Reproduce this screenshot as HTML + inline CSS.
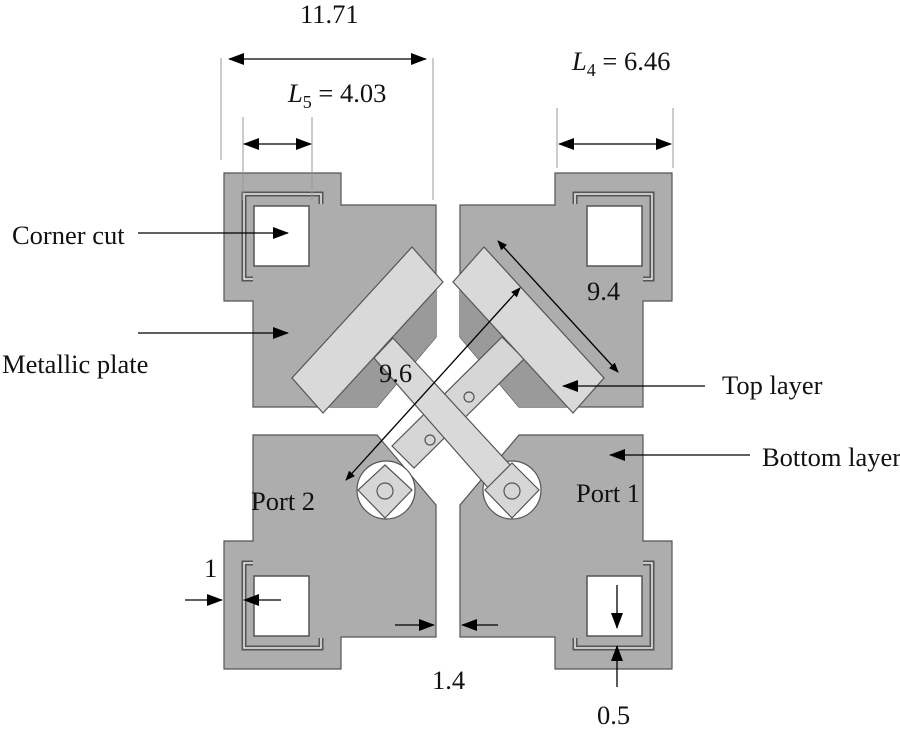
<!DOCTYPE html>
<html><head><meta charset="utf-8"><style>
html,body{margin:0;padding:0;background:#fff;}
svg{display:block;}
text{font-family:"Liberation Serif",serif;font-size:26.5px;fill:#111;}
</style></head><body>
<svg width="900" height="733" viewBox="0 0 900 733" xmlns="http://www.w3.org/2000/svg">
<defs>
<marker id="ah" markerWidth="10" markerHeight="8" refX="9" refY="4" orient="auto" markerUnits="userSpaceOnUse"><path d="M0,0 L10,4 L0,8 z" fill="#000"/></marker>
<marker id="as" markerWidth="10" markerHeight="8" refX="1" refY="4" orient="auto" markerUnits="userSpaceOnUse"><path d="M10,0 L0,4 L10,8 z" fill="#000"/></marker>
<marker id="ah2" markerWidth="16" markerHeight="12" refX="15" refY="6" orient="auto" markerUnits="userSpaceOnUse"><path d="M0,0 L16,6 L0,12 z" fill="#000"/></marker>
<marker id="as2" markerWidth="16" markerHeight="12" refX="1" refY="6" orient="auto" markerUnits="userSpaceOnUse"><path d="M16,0 L0,6 L16,12 z" fill="#000"/></marker>
<g id="plate">
<path d="M224,173 L341,173 L341,205 L436,205 L436,337 L377,407 L253,407 L253,301 L224,301 Z" fill="#adadad" stroke="#555" stroke-width="1.2"/>
<rect x="254" y="206" width="55" height="60" fill="#fff" stroke="#555" stroke-width="1.5"/>
<path d="M321,204 L321,194 L244,194 L244,279 L253,279" fill="none" stroke="#555" stroke-width="5"/>
<path d="M321,204 L321,194 L244,194 L244,279 L253,279" fill="none" stroke="#eee" stroke-width="1.5"/>
</g>
<polygon id="dark" points="436,290 436,337 377,407 328,407" fill="#9a9a9a"/>
</defs>
<use href="#plate"/>
<use href="#plate" transform="translate(896,0) scale(-1,1)"/>
<use href="#plate" transform="translate(0,842) scale(1,-1)"/>
<use href="#plate" transform="translate(896,842) scale(-1,-1)"/>
<use href="#dark"/>
<use href="#dark" transform="translate(896,0) scale(-1,1)"/>

<!-- port circles -->
<circle cx="386" cy="490" r="29" fill="#fff" stroke="#555" stroke-width="1.2"/>
<circle cx="512" cy="490" r="29" fill="#fff" stroke="#555" stroke-width="1.2"/>
<!-- bottom strip -->
<polygon points="502,337 524,359 414,468 392,446" fill="#d6d6d6" stroke="#555" stroke-width="1.2"/>
<circle cx="469" cy="397" r="5" fill="none" stroke="#555" stroke-width="1.2"/>
<circle cx="430" cy="440" r="5" fill="none" stroke="#555" stroke-width="1.2"/>
<polygon points="385,465 412,490 385,518 358,490" fill="#d6d6d6" stroke="#555" stroke-width="1.2"/>
<circle cx="385" cy="491" r="8" fill="none" stroke="#555" stroke-width="1.2"/>
<!-- crossing strip -->
<polygon points="393,338 374,358 490,490 512,467" fill="#d9d9d9" stroke="#555" stroke-width="1.2"/>
<polygon points="512,463 539,490 512,518 485,490" fill="#d6d6d6" stroke="#555" stroke-width="1.2"/>
<circle cx="512" cy="491" r="8" fill="none" stroke="#555" stroke-width="1.2"/>
<!-- top layer rects -->
<polygon points="412,247 443,282 323,413 292,378" fill="#d9d9d9" stroke="#555" stroke-width="1.2"/>
<polygon points="484,247 453,282 573,413 604,378" fill="#d9d9d9" stroke="#555" stroke-width="1.2"/>

<!-- dimension lines -->
<g stroke="#999" stroke-width="1">
<line x1="221" y1="58" x2="221" y2="160"/>
<line x1="433" y1="58" x2="433" y2="200"/>
<line x1="243" y1="117" x2="243" y2="200"/>
<line x1="312" y1="117" x2="312" y2="200"/>
<line x1="557" y1="108" x2="557" y2="168"/>
<line x1="673" y1="108" x2="673" y2="168"/>
</g>
<g stroke="#000" stroke-width="1.3" fill="none">
<line x1="229" y1="59" x2="426" y2="59" marker-start="url(#as2)" marker-end="url(#ah2)"/>
<line x1="244" y1="144" x2="311" y2="144" marker-start="url(#as2)" marker-end="url(#ah2)"/>
<line x1="559" y1="144" x2="671" y2="144" marker-start="url(#as2)" marker-end="url(#ah2)"/>
<line x1="138" y1="233" x2="288" y2="233" marker-end="url(#ah2)"/>
<line x1="138" y1="333" x2="288" y2="333" marker-end="url(#ah2)"/>
<line x1="705" y1="386" x2="563" y2="386" marker-end="url(#ah2)"/>
<line x1="750" y1="455" x2="610" y2="455" marker-end="url(#ah2)"/>
<line x1="498" y1="241" x2="618" y2="372" marker-start="url(#as)" marker-end="url(#ah)"/>
<line x1="520" y1="288" x2="346" y2="480" marker-start="url(#as)" marker-end="url(#ah)"/>
<line x1="185" y1="600" x2="222" y2="600" marker-end="url(#ah2)"/>
<line x1="281" y1="600" x2="244" y2="600" marker-end="url(#ah2)"/>
<line x1="395" y1="625" x2="434" y2="625" marker-end="url(#ah2)"/>
<line x1="498" y1="625" x2="462" y2="625" marker-end="url(#ah2)"/>
<line x1="617" y1="687" x2="617" y2="646" marker-end="url(#ah2)"/>
<line x1="617" y1="585" x2="617" y2="628" marker-end="url(#ah2)"/>
</g>

<text x="300" y="23">11.71</text>
<text x="288" y="102"><tspan font-style="italic">L</tspan><tspan font-size="18" dy="6">5</tspan><tspan dy="-6"> = 4.03</tspan></text>
<text x="572" y="70"><tspan font-style="italic">L</tspan><tspan font-size="18" dy="6">4</tspan><tspan dy="-6"> = 6.46</tspan></text>
<text x="12" y="244">Corner cut</text>
<text x="2" y="373">Metallic plate</text>
<text x="722" y="394">Top layer</text>
<text x="762" y="466">Bottom layer</text>
<text x="587" y="300">9.4</text>
<text x="379" y="382">9.6</text>
<text x="251" y="510">Port 2</text>
<text x="576" y="502">Port 1</text>
<text x="204" y="577">1</text>
<text x="432" y="689">1.4</text>
<text x="597" y="724">0.5</text>
</svg>
</body></html>
